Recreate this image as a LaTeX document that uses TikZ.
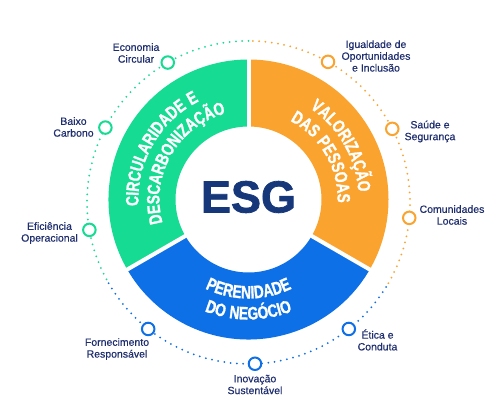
\documentclass[tikz,border=0pt]{standalone}
\usepackage{fontspec}
\setmainfont{Liberation Sans}
\newfontfamily\ringfont{Liberation Sans}[FakeStretch=0.76,FakeBold=1.2,LetterSpace=5]
\newfontfamily\esgfont{Liberation Sans}[FakeBold=1.6]
\newfontfamily\lblfont{Liberation Sans}[FakeBold=0.35]
\usetikzlibrary{decorations.text}
\definecolor{esggreen}{RGB}{22,219,147}
\definecolor{esgorange}{RGB}{250,163,46}
\definecolor{esgblue}{RGB}{14,112,230}
\definecolor{esgnavy}{RGB}{22,56,122}
\definecolor{labelnavy}{RGB}{30,46,110}
\begin{document}
\begin{tikzpicture}[x=1pt,y=1pt,
  lbl/.style={font=\lblfont\fontsize{10.5}{11.8}\selectfont, text=labelnavy, align=center, inner sep=0pt},
  bead/.style={circle, draw=#1, fill=white, line width=2pt, minimum size=12.5pt, inner sep=0pt},
  dots/.style={draw=#1, line width=2pt, line cap=round, dash pattern=on 0pt off 6.3pt},
  gapline/.style={draw=white, line width=4pt}
]
\useasboundingbox[fill=white] (0,0) rectangle (500,415);

% dotted outer circle and beads
\begin{scope}[shift={(248.5,212.6)}]
  \draw[dots=esggreen] (90:161.5pt) arc[start angle=90, end angle=210, radius=161.5pt];
  \draw[dots=esgorange] (-30:161.5pt) arc[start angle=-30, end angle=90, radius=161.5pt];
  \draw[dots=esgblue] (210:161.5pt) arc[start angle=210, end angle=330, radius=161.5pt];
  \node[bead=esggreen] (b1) at (120:161.5pt) {};
  \node[bead=esggreen] (b2) at (152.4:161.5pt) {};
  \node[bead=esggreen] (b3) at (189.8:161.5pt) {};
  \node[bead=esgorange] (b4) at (60.5:161.5pt) {};
  \node[bead=esgorange] (b5) at (27.1:161.5pt) {};
  \node[bead=esgorange] (b6) at (-5.5:161.5pt) {};
  \node[bead=esgblue] (b7) at (231.6:161.5pt) {};
  \node[bead=esgblue] (b8) at (272.3:161.5pt) {};
  \node[bead=esgblue] (b9) at (308.4:161.5pt) {};
\end{scope}

% ring
\begin{scope}[shift={(248.5,215.5)}]
  \fill[esggreen] (90:73pt) arc[start angle=90, end angle=210, radius=73pt] -- (210:140pt) arc[start angle=210, end angle=90, radius=140pt] -- cycle;
  \fill[esgorange] (-30:73pt) arc[start angle=-30, end angle=90, radius=73pt] -- (90:140pt) arc[start angle=90, end angle=-30, radius=140pt] -- cycle;
  \fill[esgblue] (210:73pt) arc[start angle=210, end angle=330, radius=73pt] -- (330:140pt) arc[start angle=330, end angle=210, radius=140pt] -- cycle;
  \path[gapline] (90:70pt) -- (90:143pt);
  \path[gapline] (210:70pt) -- (210:143pt);
  \path[gapline] (330:70pt) -- (330:143pt);

  \path[decorate, decoration={text along path, text align=center, text color=white,
    text={|\ringfont\bfseries\fontsize{18}{20}\selectfont|CIRCULARIDADE E}}]
    (240:110pt) arc[start angle=240, end angle=60, radius=110pt];
  \path[decorate, decoration={text along path, text align=center, text color=white,
    text={|\ringfont\bfseries\fontsize{18}{20}\selectfont|DESCARBONIZAÇÃO}}]
    (240:89pt) arc[start angle=240, end angle=60, radius=89pt];
  \path[decorate, decoration={text along path, text align=center, text color=white,
    text={|\ringfont\bfseries\fontsize{18}{20}\selectfont|VALORIZAÇÃO}}]
    (120:110pt) arc[start angle=120, end angle=-60, radius=110pt];
  \path[decorate, decoration={text along path, text align=center, text color=white,
    text={|\ringfont\bfseries\fontsize{18}{20}\selectfont|DAS PESSOAS}}]
    (120:89pt) arc[start angle=120, end angle=-60, radius=89pt];
  \path[decorate, decoration={text along path, text align=center, text color=white,
    text={|\ringfont\bfseries\fontsize{18}{20}\selectfont|PERENIDADE}}]
    (180:99pt) arc[start angle=180, end angle=360, radius=99pt];
  \path[decorate, decoration={text along path, text align=center, text color=white,
    text={|\ringfont\bfseries\fontsize{18}{20}\selectfont|DO NEGÓCIO}}]
    (180:120pt) arc[start angle=180, end angle=360, radius=120pt];
\end{scope}

\node[font=\esgfont\bfseries\fontsize{45}{45}\selectfont, text=esgnavy, inner sep=0pt] (esg) at (248.5,218) {ESG};

% labels
\node[lbl] (l1) at (136,362) {Economia\\Circular};
\node[lbl] (l2) at (73.5,288) {Baixo\\Carbono};
\node[lbl] (l3) at (49.5,182) {Eficiência\\Operacional};
\node[lbl] (l4) at (376,359) {Igualdade de\\Oportunidades\\e Inclusão};
\node[lbl] (l5) at (430,283.5) {Saúde e\\Segurança};
\node[lbl] (l6) at (452,200) {Comunidades\\Locais};
\node[lbl] (l7) at (117,66) {Fornecimento\\Responsável};
\node[lbl] (l8) at (255,30.5) {Inovação\\Sustentável};
\node[lbl] (l9) at (377.5,75) {Ética e\\Conduta};
\end{tikzpicture}
\end{document}
